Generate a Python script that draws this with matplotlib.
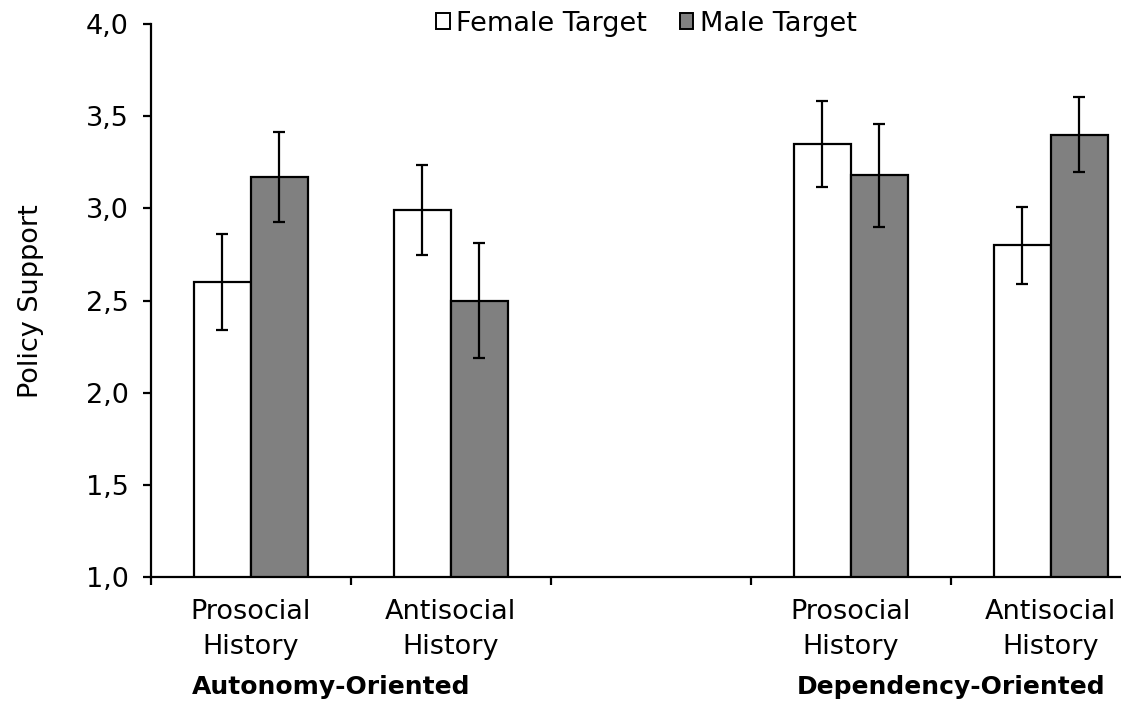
import numpy as np
import matplotlib
matplotlib.use("Agg")
import matplotlib.pyplot as plt
from matplotlib.ticker import FuncFormatter, FixedLocator
from matplotlib.patches import Patch

categories = ["Prosocial\nHistory", "Antisocial\nHistory", "", "Prosocial\nHistory", "Antisocial\nHistory"]
female = [2.60, 2.99, np.nan, 3.35, 2.80]
male = [3.17, 2.50, np.nan, 3.18, 3.40]
female_err = [0.26, 0.245, np.nan, 0.235, 0.21]
male_err = [0.245, 0.31, np.nan, 0.28, 0.205]
series_names = ["Female Target", "Male Target"]
group_labels = ["Autonomy-Oriented", "Dependency-Oriented"]
y_label = "Policy Support"

plt.rcParams['font.family'] = ['DejaVu Sans']
W, H = 1121, 707
FS = 19.5
fig = plt.figure(figsize=(W / 100, H / 100), dpi=100)
ax = fig.add_axes([150.7 / W, (H - 577.3) / H, 1000 / W, (577.3 - 24) / H])

x = np.arange(len(categories))
bw = 0.285
lw = 1.6
ax.bar(x - bw / 2, female, bw, color="white", edgecolor="black", linewidth=lw, zorder=2)
ax.bar(x + bw / 2, male, bw, color="#808080", edgecolor="black", linewidth=lw, zorder=2)
ax.errorbar(x - bw / 2, female, yerr=female_err, fmt="none", ecolor="black", elinewidth=1.6,
            capsize=4.3, capthick=1.6, zorder=3)
ax.errorbar(x + bw / 2, male, yerr=male_err, fmt="none", ecolor="black", elinewidth=1.6,
            capsize=4.3, capthick=1.6, zorder=3)

ax.set_xlim(-0.5, len(categories) - 0.5)
ax.set_ylim(1.0, 4.0)
ax.set_yticks(np.arange(1.0, 4.01, 0.5))
ax.yaxis.set_major_formatter(FuncFormatter(lambda v, p: f"{v:.1f}".replace(".", ",")))
ax.tick_params(axis="y", direction="out", length=6, width=lw, labelsize=FS, pad=10)

ax.xaxis.set_major_locator(FixedLocator(np.arange(-0.5, len(categories), 1.0)))
ax.xaxis.set_major_formatter(FuncFormatter(lambda v, p: ""))
ax.xaxis.set_minor_locator(FixedLocator(x))
ax.set_xticklabels(categories, minor=True)
ax.tick_params(axis="x", which="major", direction="out", length=6, width=lw)
ax.tick_params(axis="x", which="minor", length=0, labelsize=FS, pad=15.5)
for t in ax.get_xticklabels(minor=True):
    t.set_linespacing(1.45)

for s in ["top", "right"]:
    ax.spines[s].set_visible(False)
for s in ["left", "bottom"]:
    ax.spines[s].set_linewidth(lw)

ax.set_ylabel(y_label, fontsize=FS, labelpad=30)

handles = [Patch(facecolor="white", edgecolor="black", linewidth=1.4),
           Patch(facecolor="#808080", edgecolor="black", linewidth=1.4)]
fig.legend(handles, series_names, loc="upper center", bbox_to_anchor=(646.5 / W, 1.0),
           ncol=2, frameon=False, fontsize=FS, handlelength=0.5, handleheight=0.5,
           handletextpad=0.25, columnspacing=1.2, borderaxespad=0.0)

fig.text(192 / W, (H - 694) / H, group_labels[0], fontsize=18, fontweight="bold",
         ha="left", va="baseline")
fig.text(1105 / W, (H - 694) / H, group_labels[1], fontsize=18, fontweight="bold",
         ha="right", va="baseline")

fig.savefig("out.png", dpi=100)
